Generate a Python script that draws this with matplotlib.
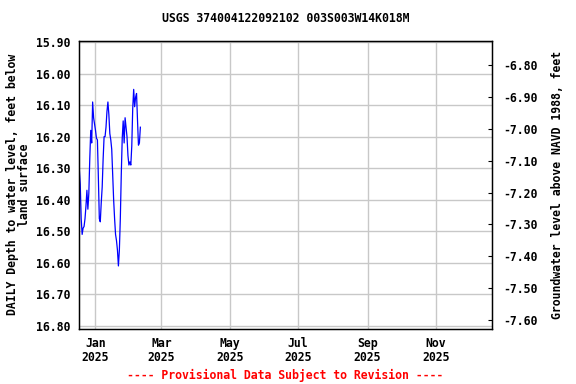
import matplotlib
matplotlib.use("Agg")
import matplotlib.pyplot as plt
import matplotlib.dates as mdates
import pandas as pd

# ---- data ----
depth_ft = [16.30, 16.35, 16.46, 16.51, 16.49, 16.485, 16.46, 16.42, 16.37, 16.43,
            16.38, 16.27, 16.18, 16.22, 16.09, 16.14, 16.16, 16.18, 16.205, 16.21,
            16.33, 16.46, 16.47, 16.41, 16.36, 16.27, 16.20, 16.20, 16.17, 16.12,
            16.09, 16.13, 16.19, 16.21, 16.24, 16.32, 16.40, 16.46, 16.51, 16.53,
            16.56, 16.61, 16.56, 16.46, 16.32, 16.205, 16.15, 16.22, 16.14, 16.17,
            16.20, 16.26, 16.29, 16.28, 16.29, 16.23, 16.11, 16.05, 16.105, 16.075,
            16.063, 16.147, 16.227, 16.22, 16.17]
start_date = "2024-12-17 18:00"
end_date = "2025-02-10 06:00"
dates = pd.date_range(start_date, end_date, periods=len(depth_ft))

tick_dates = ["2025-01-01", "2025-03-01", "2025-05-01", "2025-07-01", "2025-09-01", "2025-11-01"]
tick_labels = ["Jan\n2025", "Mar\n2025", "May\n2025", "Jul\n2025", "Sep\n2025", "Nov\n2025"]
left_ticks = [15.90, 16.00, 16.10, 16.20, 16.30, 16.40, 16.50, 16.60, 16.70, 16.80]
right_ticks = [-6.80, -6.90, -7.00, -7.10, -7.20, -7.30, -7.40, -7.50, -7.60]

title = "USGS 374004122092102 003S003W14K018M"
left_label = "DAILY Depth to water level, feet below\nland surface"
right_label = "Groundwater level above NAVD 1988, feet"
footer = "---- Provisional Data Subject to Revision ----"

FONT = "DejaVu Sans Mono"
fs = 8.3

fig = plt.figure(figsize=(5.76, 3.84), dpi=100)
ax = fig.add_axes([79/576, 1-329/384, (492-79)/576, (329-40.5)/384])

ax.plot(dates, depth_ft, color="#0000ff", lw=0.9)

ax.set_ylim(16.81, 15.895)
ax.set_xlim(pd.Timestamp("2024-12-17 12:00"), pd.Timestamp("2025-12-21"))
ax.set_yticks(left_ticks)
ax.set_yticklabels([f"{v:.2f}" for v in left_ticks])
ax.set_xticks([pd.Timestamp(d) for d in tick_dates])
ax.set_xticklabels(tick_labels)
ax.grid(True, color="#c8c8c8", lw=1)
ax.set_axisbelow(True)
ax.tick_params(axis="both", length=0, pad=6)
ax.tick_params(axis="x", pad=6)
for lab in ax.get_xticklabels() + ax.get_yticklabels():
    lab.set_fontfamily(FONT)
    lab.set_fontweight("bold")
    lab.set_fontsize(fs)
    lab.set_linespacing(1.1)
for s in ax.spines.values():
    s.set_linewidth(1)

ax2 = ax.twinx()
ax2.set_ylim(-7.628, -6.7228)
ax2.set_yticks(right_ticks)
ax2.set_yticklabels([f"{v:.2f}" for v in right_ticks])
ax2.tick_params(axis="y", direction="in", length=3, pad=8)
for lab in ax2.get_yticklabels():
    lab.set_fontfamily(FONT)
    lab.set_fontweight("bold")
    lab.set_fontsize(fs)

ax.set_ylabel(left_label, fontfamily=FONT, fontweight="bold", fontsize=fs,
              labelpad=4, linespacing=0.9)
ax2.set_ylabel(right_label, fontfamily=FONT, fontweight="bold", fontsize=fs,
               labelpad=10)

fig.text(286/576, 1-19/384, title, ha="center", va="center",
         fontfamily=FONT, fontweight="bold", fontsize=fs)
fig.text(285/576, 1-375/384, footer, ha="center", va="center",
         fontfamily=FONT, fontweight="bold", fontsize=fs, color="red")

fig.savefig("out.png", dpi=100)
